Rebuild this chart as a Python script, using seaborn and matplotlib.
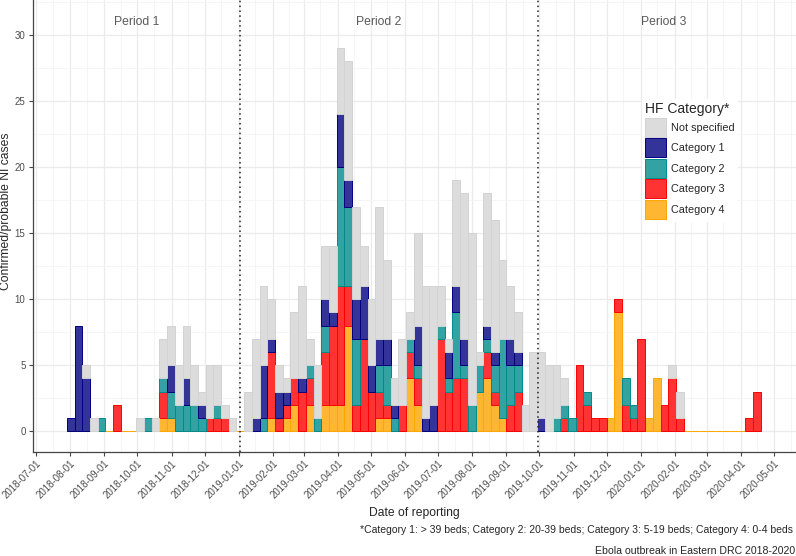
import pandas as pd
import numpy as np
import matplotlib
matplotlib.use("Agg")
import matplotlib.pyplot as plt
import matplotlib.dates as mdates
import matplotlib.colors as mcolors
from matplotlib.patches import Patch
import seaborn as sns

#weekly confirmed/probable NI cases by HF category, first week starts 2018-07-30
weeks = pd.date_range("2018-07-30", periods=90, freq="7D")
categories = ["Not specified", "Category 1", "Category 2", "Category 3", "Category 4"]

not_specified = [0, 0, 1, 1, 0, 0, 0, 0, 0, 1,
                 0, 1, 3, 3, 3, 4, 3, 1, 4, 3,
                 1, 1, 0, 3, 6, 6, 3, 2, 1, 5,
                 7, 2, 4, 4, 5, 5, 9, 7, 3, 5,
                 10, 6, 2, 5, 2, 7, 10, 9, 3, 1,
                 8, 11, 13, 1, 10, 10, 6, 4, 3, 2,
                 6, 5, 5, 4, 2, 0, 0, 0, 0, 0,
                 0, 0, 0, 0, 0, 0, 0, 0, 1, 2,
                 0, 0, 0, 0, 0, 0, 0, 0, 0, 0]
category_1 = [1, 8, 4, 0, 0, 0, 0, 0, 0, 0,
              0, 0, 0, 2, 0, 2, 0, 1, 0, 0,
              0, 0, 0, 0, 1, 4, 1, 2, 1, 0,
              1, 0, 0, 2, 1, 4, 2, 3, 4, 2,
              2, 2, 1, 0, 0, 3, 1, 2, 0, 2,
              2, 2, 0, 0, 1, 1, 0, 2, 1, 0,
              0, 1, 0, 0, 0, 0, 0, 0, 0, 0,
              0, 0, 0, 0, 0, 0, 0, 0, 0, 0,
              0, 0, 0, 0, 0, 0, 0, 0, 0, 0]
category_2 = [0, 0, 0, 0, 1, 0, 0, 0, 0, 0,
              1, 0, 1, 2, 2, 2, 2, 1, 0, 1,
              0, 0, 0, 0, 0, 1, 0, 0, 0, 0,
              0, 1, 1, 2, 0, 9, 6, 5, 0, 0,
              2, 3, 1, 0, 1, 1, 0, 0, 1, 1,
              5, 1, 2, 2, 1, 2, 6, 3, 2, 0,
              0, 0, 0, 1, 1, 1, 0, 1, 0, 0,
              0, 0, 2, 1, 0, 0, 0, 0, 0, 0,
              0, 0, 0, 0, 0, 0, 0, 0, 0, 0]
category_3 = [0, 0, 0, 0, 0, 0, 2, 0, 0, 0,
              0, 0, 2, 0, 0, 0, 0, 0, 1, 1,
              1, 0, 0, 0, 0, 0, 5, 1, 1, 2,
              3, 2, 0, 4, 6, 9, 3, 2, 7, 3,
              2, 1, 0, 2, 2, 2, 0, 0, 7, 3,
              4, 4, 0, 0, 2, 1, 0, 2, 3, 0,
              0, 0, 0, 0, 1, 0, 5, 2, 1, 1,
              0, 1, 2, 1, 7, 0, 0, 2, 4, 1,
              0, 0, 0, 0, 0, 0, 0, 0, 1, 3]
category_4 = [0, 0, 0, 0, 0, 0, 0, 0, 0, 0,
              0, 0, 1, 1, 0, 0, 0, 0, 0, 0,
              0, 0, 0, 0, 0, 0, 1, 0, 1, 2,
              0, 2, 0, 2, 2, 2, 8, 0, 0, 0,
              1, 1, 0, 0, 4, 2, 0, 0, 0, 0,
              0, 0, 0, 3, 4, 2, 1, 0, 0, 0,
              0, 0, 0, 0, 0, 0, 0, 0, 0, 0,
              1, 9, 0, 0, 0, 1, 4, 0, 0, 0,
              0, 0, 0, 0, 0, 0, 0, 0, 0, 0]

period_labels = ["Period 1", "Period 2", "Period 3"]
period_label_dates = ["2018-09-30", "2019-05-08", "2020-01-22"]
period_breaks = ["2019-01-02", "2019-09-30"]

fills = ["#DCDCDC", "#333399", "#33A2A2", "#FF3333", "#FFB733"]
edges = ["#D3D3D3", "#000080", "#008B8B", "#FF0000", "#FFA500"]

#long format table for the stacked weekly histogram
counts = [not_specified, category_1, category_2, category_3, category_4]
df = pd.concat([pd.DataFrame({"week": weeks, "cases": c, "category": cat})
                for cat, c in zip(categories, counts)], ignore_index=True)

sns.set_theme(style="white")
plt.rcParams['font.family'] = ['Liberation Sans', 'DejaVu Sans']

fig = plt.figure(figsize=(7.96, 5.56), dpi=100)
ax = fig.add_axes([32.5/796, 104.3/556, 763/796, 451.7/556])

first_edge = mdates.date2num(pd.Timestamp("2018-07-29"))
sns.histplot(data=df, x="week", weights="cases", hue="category", hue_order=categories,
             multiple="stack", binwidth=7, binrange=(first_edge, first_edge + 7 * 90),
             palette=fills, alpha=1, legend=False, ax=ax)

#ggplot style outlines, drop empty segments except the bottom baseline
edge_of = dict(zip(fills, edges))
for p in ax.patches:
    fc = mcolors.to_hex(p.get_facecolor()).upper()
    p.set_edgecolor(edge_of.get(fc, fc))
    p.set_linewidth(0.7)
    if p.get_height() == 0 and fc != "#FFB733":
        p.set_visible(False)

for d in period_breaks:
    ax.axvline(pd.Timestamp(d), color="#222222", lw=1.1, ls=(0, (1, 2.2)), zorder=3)
for lab, d in zip(period_labels, period_label_dates):
    ax.text(pd.Timestamp(d), 31.0, lab, ha="center", va="center", fontsize=8.7, color="#5A5A5A")

start = mdates.date2num(pd.Timestamp("2018-07-01"))
ax.set_xlim(start - 3.2, start + 689.5)
ax.set_ylim(-1.55, 32.65)
ax.xaxis.set_major_locator(mdates.MonthLocator())
ax.xaxis.set_minor_locator(mdates.MonthLocator(bymonthday=16))
ax.xaxis.set_major_formatter(mdates.DateFormatter("%Y-%m-%d"))
ax.yaxis.set_major_locator(plt.MultipleLocator(5))
ax.yaxis.set_minor_locator(plt.MultipleLocator(2.5))

ax.grid(which="major", color="#EBEBEB", lw=0.9)
ax.grid(which="minor", color="#F4F4F4", lw=0.6)
ax.set_axisbelow(True)
for s in ["top", "right"]:
    ax.spines[s].set_visible(False)
for s in ["left", "bottom"]:
    ax.spines[s].set_color("#444444")
    ax.spines[s].set_linewidth(0.9)
ax.tick_params(which="major", length=3, width=0.8, color="#444444", labelcolor="#4D4D4D",
               labelsize=7, pad=2, bottom=True, left=True)
ax.tick_params(which="minor", length=0)
plt.setp(ax.get_xticklabels(), rotation=45, ha="right", va="top", rotation_mode="anchor")
ax.set_xlabel("")
ax.set_ylabel("")

fig.text(6.5/796, 1 - 211/556, "Confirmed/probable NI cases", rotation=90,
         ha="center", va="center", fontsize=8.7)
fig.text(414/796, 1 - 513/556, "Date of reporting", ha="center", va="center", fontsize=8.7)
fig.text(793/796, 1 - 530/556,
         "*Category 1: > 39 beds; Category 2: 20-39 beds; Category 3: 5-19 beds; Category 4: 0-4 beds",
         ha="right", va="center", fontsize=7.5)
fig.text(795/796, 1 - 551/556, "Ebola outbreak in Eastern DRC 2018-2020",
         ha="right", va="center", fontsize=7.6)

handles = [Patch(facecolor=f, edgecolor=e, lw=0.7) for f, e in zip(fills, edges)]
leg = ax.legend(handles=handles, labels=categories, title="HF Category*",
                loc="upper left", bbox_to_anchor=(642/796, 1 - 99/556),
                bbox_transform=fig.transFigure, borderaxespad=0, borderpad=0.3,
                handlelength=1.94, handleheight=2.3, labelspacing=0.15,
                handletextpad=0.45, fontsize=7.8, title_fontsize=10,
                frameon=True, facecolor="white", edgecolor="none",
                framealpha=1, alignment="left", fancybox=False)

plt.savefig("out.png", dpi=100)
